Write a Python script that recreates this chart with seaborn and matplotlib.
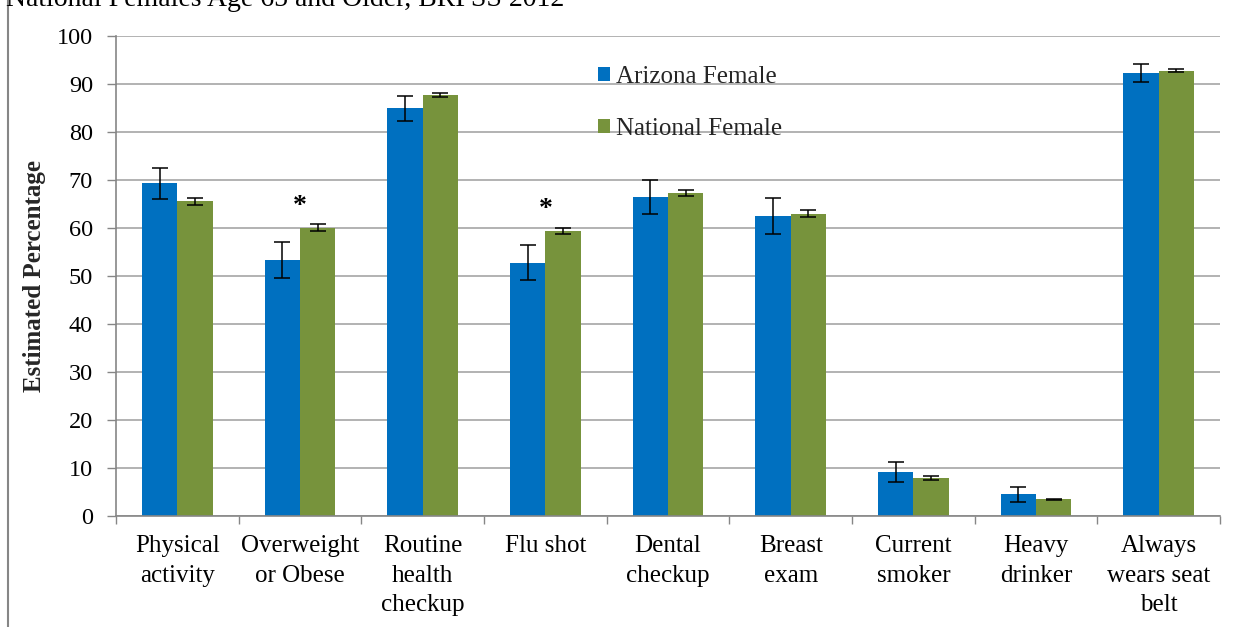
import matplotlib
matplotlib.use("Agg")
import matplotlib.pyplot as plt
from matplotlib.patches import Rectangle
import pandas as pd
import seaborn as sns

# Health behaviours among women aged 65+, BRFSS 2012
categories = [
    "Physical\nactivity", "Overweight\nor Obese", "Routine\nhealth\ncheckup",
    "Flu shot", "Dental\ncheckup", "Breast\nexam", "Current\nsmoker",
    "Heavy\ndrinker", "Always\nwears seat\nbelt",
]
groups = ["Arizona Female", "National Female"]
arizona = [69.3, 53.3, 84.9, 52.8, 66.4, 62.5, 9.1, 4.5, 92.3]
arizona_ci = [3.2, 3.7, 2.6, 3.6, 3.5, 3.85, 2.1, 1.5, 1.95]
national = [65.6, 60.1, 87.7, 59.4, 67.3, 63.0, 7.9, 3.5, 92.8]
national_ci = [0.75, 0.7, 0.5, 0.7, 0.6, 0.65, 0.35, 0.1, 0.4]
significant = [False, True, False, True, False, False, False, False, False]
y_ticks = list(range(0, 101, 10))
title = "National Females Age 65 and Older, BRFSS 2012"

BLUE = "#0070C0"
GREEN = "#77933C"
GRID = "#A6A6A6"
AXIS = "#868686"

df = pd.DataFrame({
    "measure": categories * 2,
    "pct": arizona + national,
    "group": [groups[0]] * len(categories) + [groups[1]] * len(categories),
})

sns.set_theme(style="white")
plt.rcParams["font.family"] = ["Liberation Serif", "DejaVu Serif"]

W, H = 1250, 627
fig = plt.figure(figsize=(W / 100, H / 100), dpi=100)
ax = fig.add_axes([116 / W, 1 - 516 / H, (1220 - 116) / W, (516 - 36) / H])

sns.barplot(data=df, x="measure", y="pct", hue="group", order=categories,
            hue_order=groups, palette=[BLUE, GREEN], saturation=1,
            width=0.575, gap=0, errorbar=None, linewidth=0, ax=ax)

# Confidence intervals on top of each bar
for cont, ci in zip(ax.containers, [arizona_ci, national_ci]):
    xs = [b.get_x() + b.get_width() / 2 for b in cont]
    hs = [b.get_height() for b in cont]
    ax.errorbar(xs, hs, yerr=ci, fmt="none", ecolor="black",
                elinewidth=1.1, capsize=5.5, capthick=1.1, zorder=5)

# Significance markers
for i, sig in enumerate(significant):
    if sig:
        top = max(arizona[i] + arizona_ci[i], national[i] + national_ci[i])
        ax.text(i, top + 2.4, "*", ha="center", va="baseline",
                fontsize=20, fontweight="bold", color="black")

ax.set_ylim(0, 100)
ax.set_xlim(-0.5, len(categories) - 0.5)
ax.set_yticks(y_ticks)
ax.set_yticklabels([str(v) for v in y_ticks])
ax.yaxis.grid(True, color=GRID, linewidth=1.2)
ax.set_axisbelow(True)

for side in ["top", "right"]:
    ax.spines[side].set_visible(False)
for side in ["left", "bottom"]:
    ax.spines[side].set_color(AXIS)
    ax.spines[side].set_linewidth(1.2)

ax.tick_params(axis="y", which="major", left=True, length=6.5, width=1,
               color=AXIS, pad=10, labelsize=17.5, labelcolor="black")
ax.tick_params(axis="x", which="major", bottom=True, length=0, pad=14,
               labelsize=18, labelcolor="black")
ax.set_xticks(range(len(categories)))
ax.set_xticks([i - 0.5 for i in range(len(categories) + 1)], minor=True)
ax.tick_params(axis="x", which="minor", bottom=True, length=6, width=1,
               color=AXIS)
for lbl in ax.get_xticklabels():
    lbl.set_linespacing(1.42)
    lbl.set_multialignment("center")

ax.set_xlabel("")
ax.set_ylabel("Estimated Percentage", fontsize=18, fontweight="bold",
              va="center")
ax.yaxis.set_label_coords((35 - 116) / (1220 - 116), 0.5)

leg = ax.legend(loc="center left", bbox_to_anchor=(598 / W, 1 - 103 / H),
                bbox_transform=fig.transFigure, frameon=False, fontsize=18,
                handlelength=0.48, handleheight=0.48, handletextpad=0.25,
                labelspacing=1.2, borderpad=0, borderaxespad=0)

# Outer frame and heading
fig.patches.append(Rectangle((8 / W, -0.2), 1.2, 1.2 + (1 - 9 / H),
                             transform=fig.transFigure, fill=False,
                             edgecolor=AXIS, linewidth=1.5))
fig.text(6 / W, 1 - 6.5 / H, title, ha="left", va="baseline", fontsize=20,
         color="black")

fig.savefig("out.png", dpi=100)
